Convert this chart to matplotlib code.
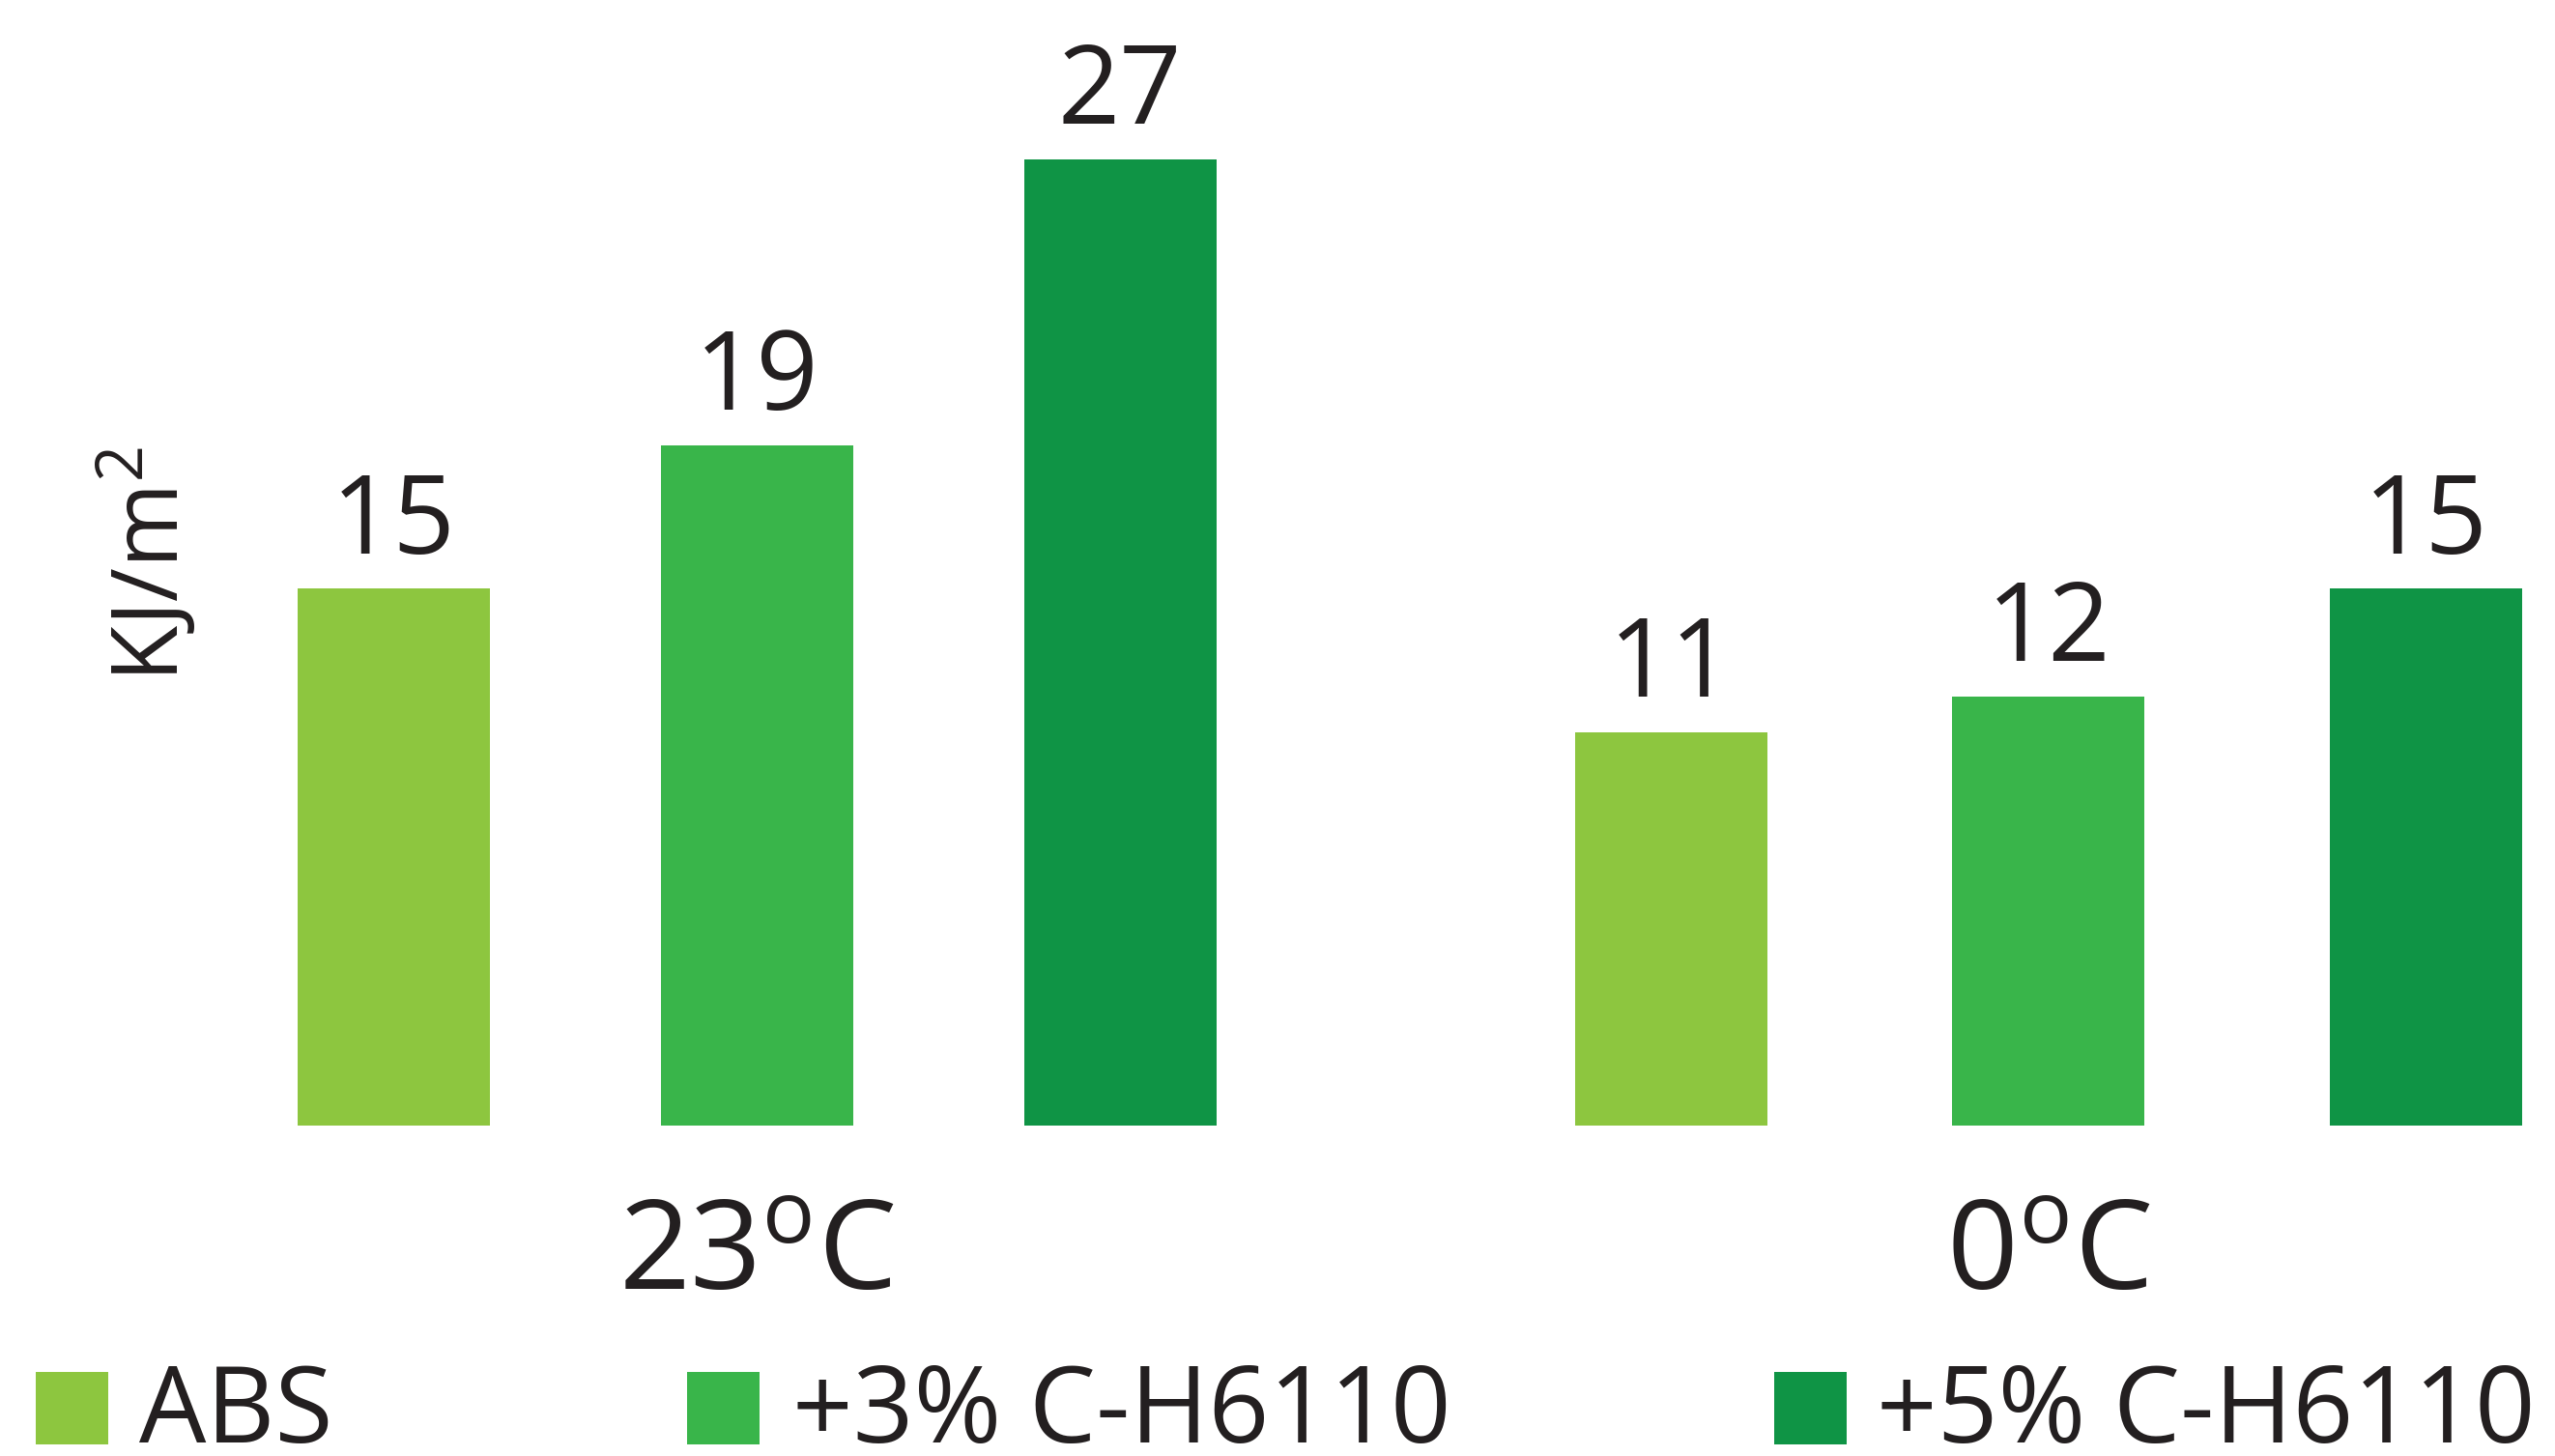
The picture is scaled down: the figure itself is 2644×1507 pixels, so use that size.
import matplotlib
matplotlib.use("Agg")
import matplotlib.pyplot as plt
from matplotlib.patches import Rectangle
from matplotlib.transforms import blended_transform_factory
import numpy as np

plt.rcParams['font.family'] = ['Open Sans', 'DejaVu Sans']
plt.rcParams['mathtext.fontset'] = 'custom'
plt.rcParams['mathtext.rm'] = 'Open Sans'
plt.rcParams['mathtext.it'] = 'Open Sans'

# ---- data ----
groups = ['23$^{\\mathregular{o}}$C', '0$^{\\mathregular{o}}$C']
series = ['ABS', '+3% C-H6110', '+5% C-H6110']
values_abs = [15, 11]
values_3 = [19, 12]
values_5 = [27, 15]
colors = ['#8DC63F', '#39B54A', '#0F9445']
ylabel = 'KJ/m$^{\\mathregular{2}}$'
text_color = '#231F20'

W, H, DPI = 2644, 1507, 100
fig = plt.figure(figsize=(W / DPI, H / DPI), dpi=DPI)
base_px = 1165
ax = fig.add_axes([0, (H - base_px) / H, 1, base_px / H])
ax.set_axis_off()

unit_px = 383.0
group_centers = np.array([1.0, 1.0 + 3.49])
group_steps = [0.981, 1.0196]
x0 = 1.0 - 783.3 / unit_px
ax.set_xlim(x0, x0 + W / unit_px)
ax.set_ylim(0, 27 * base_px / 1000.0)

data = [values_abs, values_3, values_5]
bar_w = 199 / unit_px
for s, (vals, col) in enumerate(zip(data, colors)):
    xs = group_centers + (s - 1) * np.array(group_steps)
    ax.bar(xs, vals, width=bar_w, color=col, linewidth=0)
    for x, v in zip(xs, vals):
        ax.annotate(f'{v}', xy=(x, v), xytext=(0, 26.6), textcoords='offset points',
                    ha='center', va='baseline', fontsize=81, color=text_color)

# group labels
tr = blended_transform_factory(ax.transData, fig.transFigure)
for g, lab in zip(group_centers, groups):
    ax.text(g, (H - 1335) / H, lab, transform=tr, ha='center', va='baseline',
            fontsize=93, color=text_color)

# y label
fig.text(185 / W, (H - 584) / H, ylabel, rotation=90, rotation_mode='anchor',
         ha='center', va='baseline', fontsize=68.5, color=text_color)

# legend
sq_left = [37, 711, 1836]
txt_left = [144, 820, 1942]
sq = 75
for i, name in enumerate(series):
    fig.add_artist(Rectangle((sq_left[i] / W, (H - 1495) / H), sq / W, sq / H,
                             transform=fig.transFigure, facecolor=colors[i], linewidth=0))
    fig.text(txt_left[i] / W, (H - 1493) / H, name, ha='left', va='baseline',
             fontsize=79, color=text_color)

fig.savefig('out.png', dpi=DPI, facecolor='white')
